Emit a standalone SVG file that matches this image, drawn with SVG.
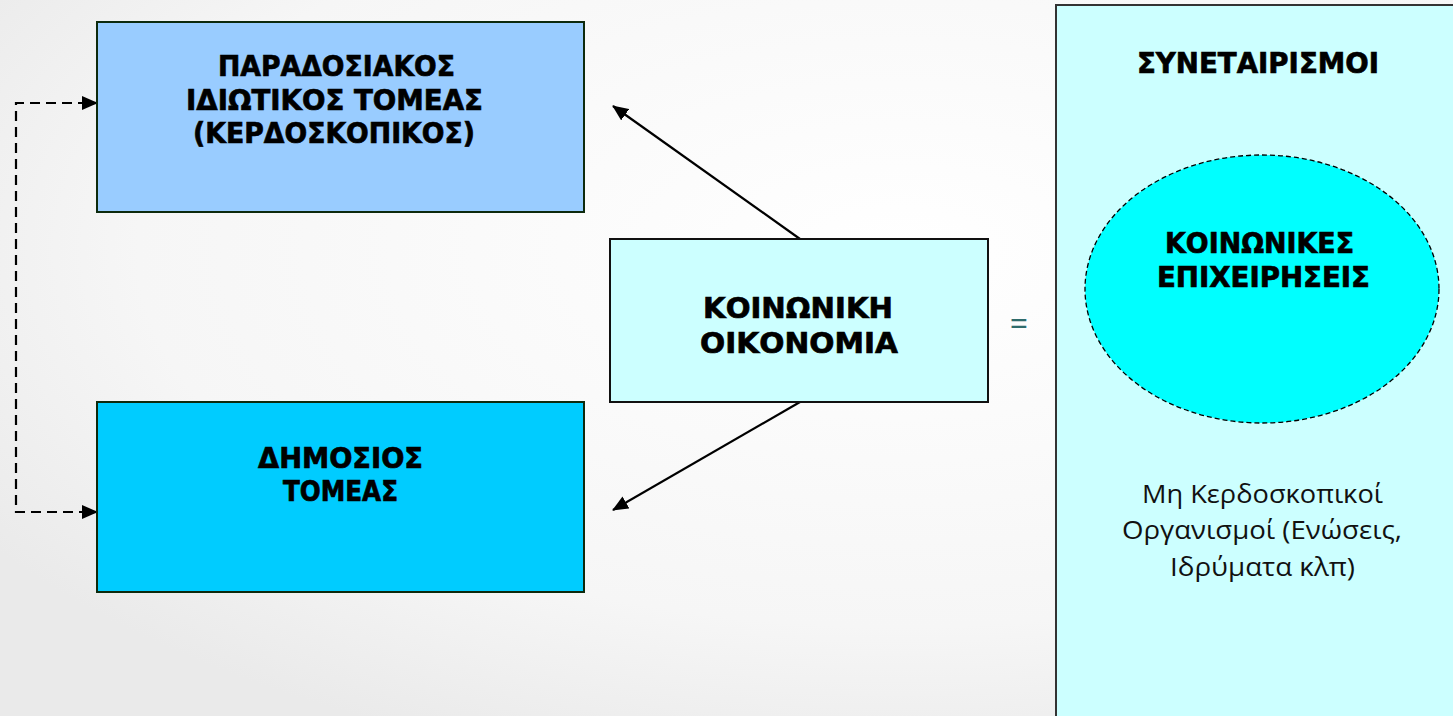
<svg xmlns="http://www.w3.org/2000/svg" width="1453" height="716" viewBox="0 0 1453 716">
<defs>
<radialGradient id="bg" cx="0.62" cy="0.35" r="0.75">
<stop offset="0" stop-color="#ffffff"/>
<stop offset="0.7" stop-color="#f6f6f6"/>
<stop offset="1" stop-color="#eaeaea"/>
</radialGradient>
<marker id="ah2" markerWidth="16" markerHeight="14" refX="15" refY="7" orient="auto" markerUnits="userSpaceOnUse" viewBox="0 0 16 14">
<path d="M0,0 L16,7 L0,14 z" fill="#000"/>
</marker>
<style>
.b{font-family:"DejaVu Sans",Verdana,sans-serif;font-weight:bold;fill:#000;stroke:#000;stroke-width:0.7px;text-anchor:middle;font-size:29px}
.r{font-family:"Open Sans","Noto Sans",sans-serif;fill:#111;text-anchor:middle;font-size:26px}
.box{stroke:#0d2a0d;stroke-width:2}
.conn{stroke:#000;stroke-width:2.2;fill:none}
</style>
</defs>
<rect width="1453" height="716" fill="url(#bg)"/>
<g id="connectors">
<path class="conn" d="M88,103 H16 V512 H88" stroke-dasharray="10,6"/>
<line class="conn" x1="84" y1="103" x2="97" y2="103" marker-end="url(#ah2)"/>
<line class="conn" x1="84" y1="512" x2="97" y2="512" marker-end="url(#ah2)"/>
<line class="conn" x1="800" y1="239" x2="613" y2="106" marker-end="url(#ah2)"/>
<line class="conn" x1="800" y1="402" x2="613" y2="510" marker-end="url(#ah2)"/>
</g>
<g id="private">
<rect class="box" x="97" y="22" width="487" height="190" fill="#99ccff"/>
<text class="b" x="336.5" y="76" textLength="237" lengthAdjust="spacingAndGlyphs">ΠΑΡΑΔΟΣΙΑΚΟΣ</text>
<text class="b" x="334.5" y="110" textLength="297" lengthAdjust="spacingAndGlyphs">ΙΔΙΩΤΙΚΟΣ ΤΟΜΕΑΣ</text>
<text class="b" x="334" y="143" textLength="282" lengthAdjust="spacingAndGlyphs">(ΚΕΡΔΟΣΚΟΠΙΚΟΣ)</text>
</g>
<g id="public">
<rect class="box" x="97" y="402" width="487" height="190" fill="#00ccff"/>
<text class="b" x="340.5" y="468" textLength="165" lengthAdjust="spacingAndGlyphs">ΔΗΜΟΣΙΟΣ</text>
<text class="b" x="340.5" y="501" textLength="115" lengthAdjust="spacingAndGlyphs">ΤΟΜΕΑΣ</text>
</g>
<g id="social-economy">
<rect x="610" y="239" width="378" height="163" fill="#ccffff" stroke="#111" stroke-width="2"/>
<text class="b" x="798" y="318" textLength="190" lengthAdjust="spacingAndGlyphs">ΚΟΙΝΩΝΙΚΗ</text>
<text class="b" x="799" y="353" textLength="198" lengthAdjust="spacingAndGlyphs">ΟΙΚΟΝΟΜΙΑ</text>
</g>
<g id="equals">
<text x="1019" y="335" font-family="Open Sans,sans-serif" font-size="32" fill="#2f6b6b" text-anchor="middle">=</text>
</g>
<g id="cooperatives">
<rect x="1056" y="5" width="410" height="720" fill="#ccffff" stroke="#333" stroke-width="2"/>
<text class="b" x="1258" y="73" textLength="242" lengthAdjust="spacingAndGlyphs">ΣΥΝΕΤΑΙΡΙΣΜΟΙ</text>
<text class="r" x="1262.5" y="503" textLength="241" lengthAdjust="spacingAndGlyphs">Μη Κερδοσκοπικοί</text>
<text class="r" x="1262" y="539" textLength="280" lengthAdjust="spacingAndGlyphs">Οργανισμοί (Ενώσεις,</text>
<text class="r" x="1262.5" y="576" textLength="185" lengthAdjust="spacingAndGlyphs">Ιδρύματα κλπ)</text>
</g>
<g id="social-enterprises">
<ellipse cx="1262" cy="289" rx="177" ry="134" fill="#00ffff" stroke="#000" stroke-width="1.3" stroke-dasharray="5,3"/>
<text class="b" x="1259.5" y="253" textLength="189" lengthAdjust="spacingAndGlyphs">ΚΟΙΝΩΝΙΚΕΣ</text>
<text class="b" x="1263.5" y="287" textLength="213" lengthAdjust="spacingAndGlyphs">ΕΠΙΧΕΙΡΗΣΕΙΣ</text>
</g>
</svg>
